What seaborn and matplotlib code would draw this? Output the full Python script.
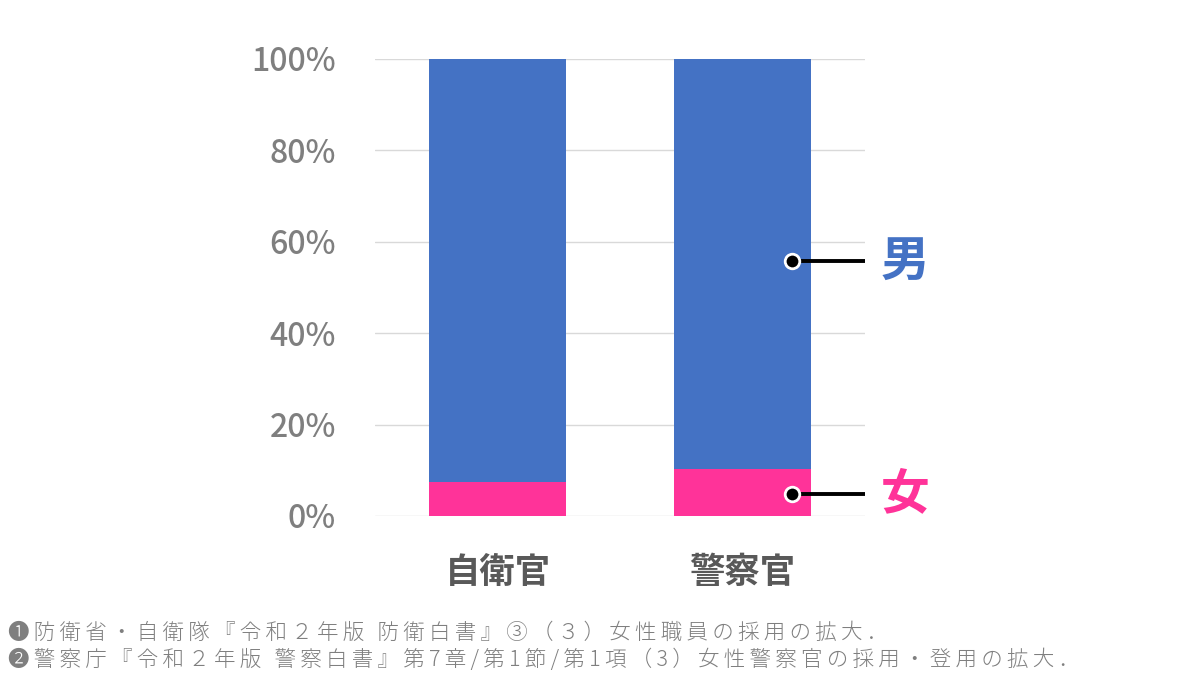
import numpy as np
import pandas as pd
import matplotlib
matplotlib.use("Agg")
import matplotlib.pyplot as plt
import seaborn as sns

# ---------- Data ----------
jobs = ["自衛官", "警察官"]
female_pct = [7.4, 10.2]
male_pct = [100 - v for v in female_pct]
y_ticks = [0, 20, 40, 60, 80, 100]

notes = [
    "❶防衛省・自衛隊『令和２年版 防衛白書』③（３）女性職員の採用の拡大．",
    "❷警察庁『令和２年版 警察白書』第7章/第1節/第1項（3）女性警察官の採用・登用の拡大．",
]

BLUE = "#4472C4"
PINK = "#FF3399"
GREY = "#7f7f7f"

sns.set_theme(style="white")
plt.rcParams["font.family"] = ["Noto Sans CJK JP", "DejaVu Sans"]

df = pd.DataFrame({"job": jobs, "female": female_pct, "male": male_pct})
df["total"] = df["female"] + df["male"]

fig = plt.figure(figsize=(12, 6.75), dpi=100)
ax = fig.add_axes([0.3125, 0.2356, 0.4083, 0.677])

sns.barplot(data=df, x="job", y="total", color=BLUE, width=0.558,
            saturation=1, linewidth=0, ax=ax)
sns.barplot(data=df, x="job", y="female", color=PINK, width=0.558,
            saturation=1, linewidth=0, ax=ax)

ax.set_xlim(-0.5, 1.5)
ax.set_ylim(0, 100)
ax.set_yticks(y_ticks)
ax.set_yticklabels([f"{t}%" for t in y_ticks], fontsize=23, color=GREY,
                   fontweight="medium")
ax.tick_params(axis="y", length=0, pad=28)
ax.tick_params(axis="x", length=0, pad=28)
for lab in ax.get_xticklabels():
    lab.set_fontsize(25.5)
    lab.set_fontweight("bold")
    lab.set_color("#595959")
ax.set_xlabel("")
ax.set_ylabel("")
ax.yaxis.grid(True, color="#d9d9d9", linewidth=1)
ax.set_axisbelow(True)
for s in ax.spines.values():
    s.set_visible(False)

# legend callouts
callouts = [("男", 55.8, BLUE), ("女", 4.8, PINK)]
for label, yv, col in callouts:
    ax.plot([1.203, 1.5], [yv, yv], color="black", lw=2.8, clip_on=False,
            solid_capstyle="butt", zorder=5)
    ax.scatter([1.203], [yv], s=110, color="black", edgecolor="white",
               linewidth=2, zorder=6, clip_on=False)
    ax.text(1.565, yv, label, color=col, fontsize=35, fontweight="bold",
            va="center", ha="left")

# source notes (spaced out like the original)
for i, note in enumerate(notes):
    spaced = "\u2009".join(list(note))
    fig.text(0.007, 0.062 - 0.04 * i, spaced, fontsize=15.5, color=GREY,
             fontweight="light", va="center")

fig.savefig("out.png", dpi=100)
